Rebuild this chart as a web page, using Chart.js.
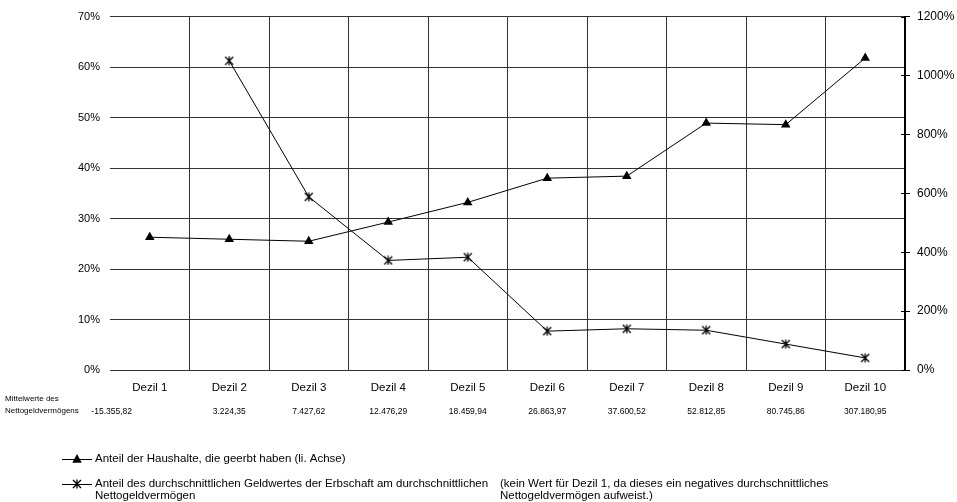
<!DOCTYPE html>
<html>
<head>
<meta charset="utf-8">
<script src="https://cdn.jsdelivr.net/npm/chart.js@4.4.1/dist/chart.umd.min.js"></script>
<style>
  html, body { margin: 0; padding: 0; background: #fff; }
  canvas { display: block; }
</style>
</head>
<body>
<canvas id="chart" width="957" height="502"></canvas>
<script>
// Wealth deciles
const deciles = ['Dezil 1', 'Dezil 2', 'Dezil 3', 'Dezil 4', 'Dezil 5',
                 'Dezil 6', 'Dezil 7', 'Dezil 8', 'Dezil 9', 'Dezil 10'];

// Share of households that have inherited (%, left axis)
const shareInherited = [26.3, 25.9, 25.5, 29.3, 33.2, 38.0, 38.4, 48.9, 48.6, 61.8];

// Average inheritance value relative to average net financial wealth (%, right axis)
const inheritanceToWealth = [null, 1050, 588, 372, 383, 132, 140, 135, 88, 41];

// Mean net financial wealth per decile
const meanNetWealth = ['-15.355,82', '3.224,35', '7.427,62', '12.476,29', '18.459,94',
                       '26.863,97', '37.600,52', '52.812,85', '80.745,86', '307.180,95'];

// Axis ranges
const leftAxis = { min: 0, max: 70, step: 10 };
const rightAxis = { min: 0, max: 1200, step: 200 };

const seriesNames = [
  'Anteil der Haushalte, die geerbt haben (li. Achse)',
  ['Anteil des durchschnittlichen Geldwertes der Erbschaft am durchschnittlichen', 'Nettogeldvermögen']
];
const rowLabel = ['Mittelwerte des', 'Nettogeldvermögens'];
const noteLines = ['(kein Wert für Dezil 1, da dieses ein negatives durchschnittliches',
                   'Nettogeldvermögen aufweist.)'];

const FONT = '"Liberation Sans", Arial, sans-serif';

// Asterisk marker: diagonal cross plus a vertical stroke
function makeAsterisk(size) {
  const c = document.createElement('canvas');
  c.width = size; c.height = size;
  const g = c.getContext('2d');
  g.strokeStyle = '#000';
  g.lineWidth = 1.3;
  const m = size / 2, r = size / 2 - 1;
  g.beginPath();
  g.moveTo(m - r, m - r); g.lineTo(m + r, m + r);
  g.moveTo(m + r, m - r); g.lineTo(m - r, m + r);
  g.moveTo(m, 0.5); g.lineTo(m, size - 0.5);
  g.stroke();
  return c;
}
const asterisk = makeAsterisk(10);

function drawTriangle(ctx, x, y, r) {
  ctx.beginPath();
  ctx.moveTo(x, y - r);
  ctx.lineTo(x + r * 0.95, y + r * 0.75);
  ctx.lineTo(x - r * 0.95, y + r * 0.75);
  ctx.closePath();
  ctx.fill();
}

const extras = {
  id: 'extras',
  afterDraw(chart) {
    const { ctx } = chart;
    const xs = chart.scales.x;
    const y1 = chart.scales.y1;
    ctx.save();

    // inner half of the right-axis tick marks
    ctx.strokeStyle = '#000';
    ctx.lineWidth = 1;
    y1.ticks.forEach((t, i) => {
      const py = Math.round(y1.getPixelForTick(i)) + 0.5;
      ctx.beginPath();
      ctx.moveTo(y1.left - 4, py);
      ctx.lineTo(y1.left, py);
      ctx.stroke();
    });

    // mean net financial wealth row (first cell sits right after the row label)
    ctx.fillStyle = '#000';
    ctx.textBaseline = 'middle';
    ctx.font = '8.5px ' + FONT;
    meanNetWealth.forEach((v, i) => {
      if (i === 0) {
        ctx.textAlign = 'right';
        ctx.fillText(v, xs.left + 22, 412);
      } else {
        ctx.textAlign = 'center';
        ctx.fillText(v, xs.getPixelForValue(i), 412);
      }
    });
    ctx.textAlign = 'left';
    ctx.font = '8px ' + FONT;
    ctx.fillText(rowLabel[0], 5, 399);
    ctx.fillText(rowLabel[1], 5, 411);

    // legend
    ctx.font = '11.5px ' + FONT;
    ctx.lineWidth = 1;
    ctx.strokeStyle = '#000';
    // series 1
    ctx.beginPath(); ctx.moveTo(62, 459.5); ctx.lineTo(92, 459.5); ctx.stroke();
    drawTriangle(ctx, 77, 459, 5);
    ctx.fillText(seriesNames[0], 95, 459);
    // series 2
    ctx.beginPath(); ctx.moveTo(62, 484.5); ctx.lineTo(92, 484.5); ctx.stroke();
    ctx.drawImage(asterisk, 72, 479);
    ctx.fillText(seriesNames[1][0], 95, 484);
    ctx.fillText(seriesNames[1][1], 95, 496);
    // note
    ctx.fillText(noteLines[0], 500, 484);
    ctx.fillText(noteLines[1], 500, 496);

    ctx.restore();
  }
};

const gridColor = '#333';

new Chart(document.getElementById('chart'), {
  type: 'line',
  data: {
    labels: deciles,
    datasets: [
      {
        label: seriesNames[0],
        data: shareInherited,
        yAxisID: 'y',
        borderColor: '#000',
        backgroundColor: '#000',
        borderWidth: 1,
        pointStyle: 'triangle',
        pointRadius: 5.5,
        pointHoverRadius: 5.5,
        pointBorderWidth: 0,
        tension: 0
      },
      {
        label: seriesNames[1].join(' '),
        data: inheritanceToWealth,
        yAxisID: 'y1',
        borderColor: '#000',
        backgroundColor: '#000',
        borderWidth: 1,
        pointStyle: asterisk,
        pointRadius: 5,
        tension: 0
      }
    ]
  },
  options: {
    responsive: false,
    animation: false,
    events: [],
    layout: { padding: { top: 15, bottom: 0, left: 0, right: 0 } },
    plugins: {
      legend: { display: false },
      tooltip: { enabled: false },
      title: { display: false }
    },
    scales: {
      x: {
        offset: true,
        border: { display: false },
        grid: {
          offset: true,
          drawTicks: false,
          lineWidth: 1,
          color: (c) => (c.index === 0 ? 'rgba(0,0,0,0)' : gridColor)
        },
        ticks: {
          color: '#000',
          font: { family: FONT, size: 11.5 },
          padding: 11,
          maxRotation: 0,
          autoSkip: false
        },
        afterFit(scale) { scale.height = 132; }
      },
      y: {
        position: 'left',
        min: leftAxis.min,
        max: leftAxis.max,
        border: { display: false },
        grid: { drawTicks: false, color: gridColor, lineWidth: 1 },
        ticks: {
          stepSize: leftAxis.step,
          padding: 10,
          color: '#000',
          font: { family: FONT, size: 11 },
          callback: (v) => v + '%'
        },
        afterFit(scale) { scale.width = 110; }
      },
      y1: {
        position: 'right',
        min: rightAxis.min,
        max: rightAxis.max,
        border: { display: true, color: '#000', width: 2 },
        grid: { drawOnChartArea: false, drawTicks: true, tickLength: 5, color: '#000' },
        ticks: {
          stepSize: rightAxis.step,
          padding: 7,
          color: '#000',
          font: { family: FONT, size: 12 },
          callback: (v) => v + '%'
        },
        afterFit(scale) { scale.width = 52; }
      }
    }
  },
  plugins: [extras]
});
</script>
</body>
</html>
